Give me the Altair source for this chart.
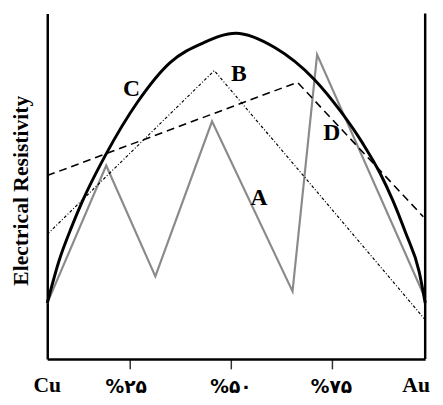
import altair as alt
import pandas as pd

# Curve C (solid, thick)
c_x = [0, 3.1, 6.5, 9.1, 15.3, 23.9, 32.5, 41.3, 49.9, 60.3, 70.6, 77.7, 83.6, 88.1, 91.4, 94.8, 98.4, 100]
c_y = [16.2, 28.4, 38.4, 45.2, 58.8, 74.4, 85.8, 91.5, 94.3, 90.1, 81.0, 71.6, 62.2, 53.7, 46.0, 36.6, 25.3, 16.2]
# Curve A (grey zigzag)
a_x = [0, 15.6, 28.6, 43.6, 64.9, 71.4, 100]
a_y = [16.2, 56.0, 23.9, 68.8, 19.6, 88.1, 17.6]
# Curve B (dash-dot)
b_x = [0, 44.2, 100]
b_y = [36.1, 83.5, 11.4]
# Curve D (dashed)
d_x = [0, 66.2, 99.5]
d_y = [53.1, 80.1, 41.2]

curve_labels = ["A", "B", "C", "D"]
label_x = [56.0, 50.7, 22.3, 75.3]
label_y = [46.6, 82.4, 78.1, 65.3]

tick_pos = [21.7, 48.6, 75.2]
end_label_x = [0, 97.6]
end_labels = ["Cu", "Au"]
pct_labels = ["%۲۵", "%۵۰", "%۷۵"]
pct_label_x = [20.9, 48.6, 75.2]
y_title = "Electrical  Resistivity"

SERIF = "Liberation Serif, DejaVu Serif, DejaVu Sans"

xs = alt.Scale(domain=[0, 100], nice=False, zero=False)
ys = alt.Scale(domain=[0, 100], nice=False, zero=False)

x_axis = alt.Axis(values=tick_pos, labels=False, ticks=True, tickSize=10, tickWidth=1.5,
                  tickColor="#333333", domainColor="black", domainWidth=2.5, grid=False, title=None)
y_axis = alt.Axis(values=[0], ticks=False, labels=False, grid=False, domainColor="black",
                  domainWidth=2.5, title=y_title, titleFont=SERIF, titleFontSize=22,
                  titleFontWeight="bold", titleColor="black", titleX=-27, titleY=180,
                  titleAngle=270, titleBaseline="middle", titleAlign="center")

def xe():
    return alt.X("x:Q", scale=xs, axis=x_axis)

def ye():
    return alt.Y("y:Q", scale=ys, axis=y_axis)

df_a = pd.DataFrame({"x": a_x, "y": a_y})
df_b = pd.DataFrame({"x": b_x, "y": b_y})
df_c = pd.DataFrame({"x": c_x, "y": c_y})
df_d = pd.DataFrame({"x": d_x, "y": d_y})

line_a = alt.Chart(df_a).mark_line(color="#8a8a8a", strokeWidth=2.2).encode(x=xe(), y=ye())
line_b = alt.Chart(df_b).mark_line(color="black", strokeWidth=1.2, strokeDash=[3, 2, 1, 2]).encode(x=xe(), y=ye())
line_d = alt.Chart(df_d).mark_line(color="black", strokeWidth=1.6, strokeDash=[8, 5]).encode(x=xe(), y=ye())
line_c = alt.Chart(df_c).mark_line(color="black", strokeWidth=3, interpolate="monotone").encode(x=xe(), y=ye())

df_frame = pd.DataFrame({"x": [100], "y": [0], "y2": [100]})
right_rule = alt.Chart(df_frame).mark_rule(color="black", strokeWidth=2.5).encode(
    x=xe(), y=ye(), y2="y2:Q")

df_lab = pd.DataFrame({"x": label_x, "y": label_y, "t": curve_labels})
letters = alt.Chart(df_lab).mark_text(font=SERIF, fontSize=24, fontWeight="bold", color="black",
                                      baseline="middle").encode(
    x=xe(), y=ye(), text="t:N")

df_end = pd.DataFrame({"x": end_label_x, "t": end_labels})
end_text = alt.Chart(df_end).mark_text(font=SERIF, fontSize=22, fontWeight="bold", color="black",
                                       baseline="middle").encode(
    x=xe(), y=alt.value(379), text="t:N")

df_pct = pd.DataFrame({"x": pct_label_x, "t": pct_labels})
pct_text = alt.Chart(df_pct).mark_text(font="DejaVu Sans", fontSize=19, fontWeight="bold", color="black",
                                       baseline="middle").encode(
    x=xe(), y=alt.value(381), text="t:N")

chart = alt.layer(line_a, line_b, line_d, line_c, right_rule, letters, end_text, pct_text).properties(
    width=385, height=352,
    autosize=alt.AutoSizeParams(type="none"),
    padding={"left": 40, "top": 2, "right": 10, "bottom": 35},
    background="white",
).configure_view(stroke=None)

chart.save("out.html", embed_options={"renderer": "svg", "actions": False})
